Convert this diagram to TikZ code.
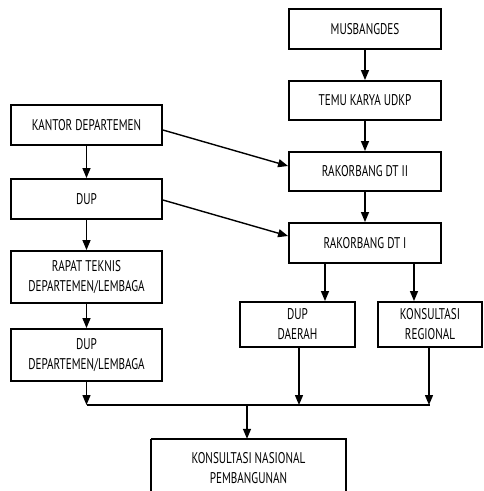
\documentclass[tikz,border=0pt]{standalone}
\usepackage{fontspec}
\newfontfamily\cond{PT Sans}[FakeStretch=0.72]
\usetikzlibrary{arrows.meta}
\begin{document}
\begin{tikzpicture}[x=1pt,y=-1pt,
  box/.style={draw, line width=1.9pt, inner sep=0pt, align=center, font=\cond\fontsize{15.5}{20}\selectfont, text=black},
  arr/.style={line width=1.4pt, -{Triangle[length=10pt,width=8pt]}},
  ln/.style={line width=1.4pt}]
\useasboundingbox (0,0) rectangle (483,491);
\node[box, minimum width=152pt, minimum height=40pt] (mus) at (365,29) {MUSBANGDES};
\node[box, minimum width=152pt, minimum height=39pt] (temu) at (365,100.5) {TEMU KARYA UDKP};
\node[box, minimum width=152pt, minimum height=39pt] (dt2) at (365,171.5) {RAKORBANG DT II};
\node[box, minimum width=152pt, minimum height=40pt] (dt1) at (365,243) {RAKORBANG DT I};
\node[box, minimum width=151pt, minimum height=40pt] (kantor) at (86.5,125) {KANTOR DEPARTEMEN};
\node[box, minimum width=151pt, minimum height=40pt] (dup) at (86.5,199) {DUP};
\node[box, minimum width=151pt, minimum height=52pt] (rapat) at (86.5,277) {RAPAT TEKNIS\\DEPARTEMEN/LEMBAGA};
\node[box, minimum width=151pt, minimum height=52pt] (dupdept) at (86.5,355) {DUP\\DEPARTEMEN/LEMBAGA};
\node[box, minimum width=115pt, minimum height=45pt] (dupd) at (297.5,324.5) {DUP\\DAERAH};
\node[box, minimum width=104pt, minimum height=45pt] (konreg) at (430,324.5) {KONSULTASI\\REGIONAL};
\node[draw=none, inner sep=0pt, minimum width=195pt, minimum height=0pt] (nas) at (248.5,439) {};
\draw[line width=1.9pt] (nas.west) -- ++(0,60) (nas.west) -- (nas.east) -- ++(0,60);
\node[font=\cond\fontsize{15.5}{20}\selectfont, text=black, align=center] (nastext) at (248.5,468) {KONSULTASI NASIONAL\\PEMBANGUNAN};
\coordinate (busL) at (86.5,405);
\coordinate (busR) at (430,405);
\draw[arr] (mus) -- (temu);
\draw[arr] (temu) -- (dt2);
\draw[arr] (dt2) -- (dt1);
\draw[arr] (kantor) -- (dup);
\draw[arr] (dup) -- (rapat);
\draw[arr] (rapat) -- (dupdept);
\draw[arr] ([yshift=-5pt]kantor.east) -- ([yshift=5.5pt]dt2.west);
\draw[arr] ([yshift=-1pt]dup.east) -- ([yshift=7pt]dt1.west);
\draw[arr] (dt1.south -| 325,0) -- (dupd.north -| 325,0);
\draw[arr] (dt1.south -| 414,0) -- (konreg.north -| 414,0);
\draw[ln] (busL) -- (busR);
\draw[arr] (dupdept.south) -- (busL);
\draw[arr] (dupd.south -| 299,0) -- (busL -| 299,0);
\draw[arr] (konreg.south -| 429,0) -- (busL -| 429,0);
\draw[arr] (busL -| 247,0) -- (nas.north -| 247,0);
\end{tikzpicture}
\end{document}
